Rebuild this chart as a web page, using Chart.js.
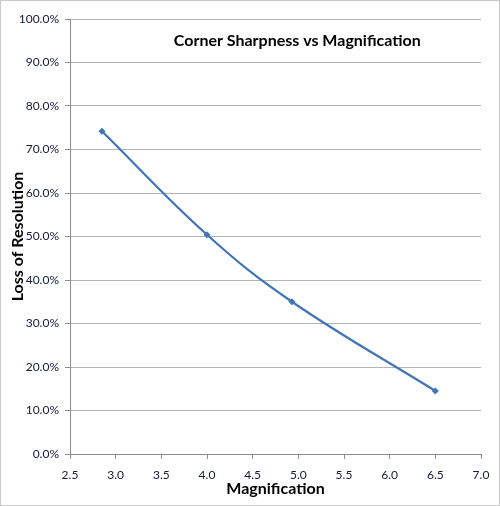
<!DOCTYPE html>
<html lang="en">
<head>
    <meta charset="UTF-8">
    <title>Corner Sharpness vs Magnification</title>
    <script src="https://cdn.jsdelivr.net/npm/chart.js"></script>
    <style>
        body { margin: 0; background: #fff; }
        #wrap { width: 500px; height: 506px; }
    </style>
</head>
<body>
    <div id="wrap"><canvas id="sharpChart" width="500" height="506"></canvas></div>

    <script>
        const chartTitle = 'Corner Sharpness vs Magnification';
        const magnification = [2.85, 4.0, 4.93, 6.5];
        const lossOfResolution = [74.2, 50.4, 35.0, 14.5]; // percent
        const xTitle = 'Magnification';
        const yTitle = 'Loss of Resolution';

        const textColor = '#141a38';
        const lineColor = '#4174b8';

        const points = magnification.map((m, i) => ({ x: m, y: lossOfResolution[i] }));

        // title sits inside the plot area, plus the thin frame round the picture
        const decor = {
            id: 'decor',
            afterDraw(chart) {
                const ctx = chart.ctx;
                const area = chart.chartArea;
                ctx.save();
                ctx.font = 'bold 16px Lato, "Open Sans", sans-serif';
                ctx.fillStyle = '#000';
                ctx.textAlign = 'center';
                ctx.textBaseline = 'middle';
                ctx.fillText(chartTitle, area.left + (area.right - area.left) * 0.553, area.top + 22);
                ctx.strokeStyle = '#c8c8c8';
                ctx.lineWidth = 1;
                ctx.strokeRect(0.5, 0.5, chart.width - 1, chart.height - 1);
                ctx.restore();
            }
        };

        const ctx = document.getElementById('sharpChart').getContext('2d');
        new Chart(ctx, {
            type: 'scatter',
            data: {
                datasets: [{
                    data: points,
                    showLine: true,
                    tension: 0.4,
                    borderColor: lineColor,
                    borderWidth: 2.2,
                    backgroundColor: lineColor,
                    pointStyle: 'rectRot',
                    pointRadius: 3.5,
                    pointBorderWidth: 0,
                    fill: false
                }]
            },
            options: {
                responsive: false,
                animation: false,
                layout: { padding: { top: 19, right: 19, left: 0, bottom: 0 } },
                plugins: {
                    legend: { display: false },
                    tooltip: { enabled: false }
                },
                scales: {
                    x: {
                        type: 'linear',
                        min: 2.5,
                        max: 7.0,
                        ticks: {
                            stepSize: 0.5,
                            color: textColor,
                            padding: 9,
                            font: { family: 'Lato, "Open Sans", sans-serif', size: 12 },
                            callback: v => v.toFixed(1)
                        },
                        grid: {
                            drawOnChartArea: false,
                            drawTicks: true,
                            tickLength: 5,
                            color: '#8c8c8c'
                        },
                        border: { color: '#8c8c8c', width: 1 },
                        title: {
                            display: true,
                            text: xTitle,
                            color: '#000',
                            font: { family: 'Lato, "Open Sans", sans-serif', size: 16, weight: 'bold' },
                            padding: { top: 2, bottom: 8 }
                        },
                        afterFit: s => { s.height = 52; }
                    },
                    y: {
                        min: 0,
                        max: 100,
                        ticks: {
                            stepSize: 10,
                            color: textColor,
                            padding: 6,
                            font: { family: 'Lato, "Open Sans", sans-serif', size: 12 },
                            callback: v => v.toFixed(1) + '%'
                        },
                        grid: {
                            color: '#b4b4b4',
                            tickColor: '#8c8c8c',
                            tickLength: 5
                        },
                        border: { color: '#8c8c8c', width: 1 },
                        title: {
                            display: true,
                            text: yTitle,
                            color: '#000',
                            font: { family: 'Lato, "Open Sans", sans-serif', size: 16, weight: 'bold' },
                            padding: { top: 8, bottom: 0 }
                        },
                        afterFit: s => { s.width = 70; }
                    }
                }
            },
            plugins: [decor]
        });
    </script>
</body>
</html>
